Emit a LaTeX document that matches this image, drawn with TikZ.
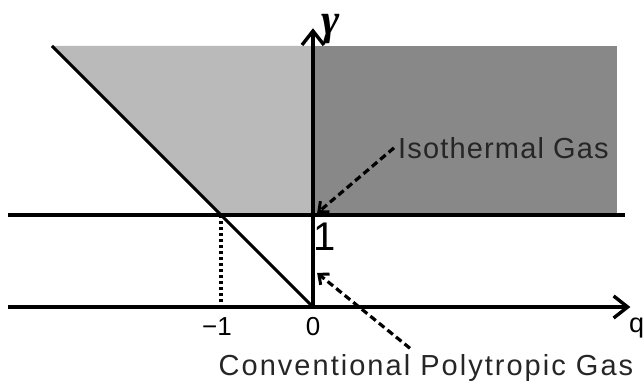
\documentclass[tikz,border=0pt]{standalone}
\usepackage{fontspec}
\setmainfont{Liberation Sans}
\newfontfamily\greekfont{Liberation Serif}
\usetikzlibrary{arrows.meta}
\definecolor{lightshade}{gray}{0.73}
\definecolor{darkshade}{gray}{0.535}

\begin{document}
\begin{tikzpicture}[x=92pt, y=92pt,
  axis/.style={line width=3.6pt, -{Straight Barb[length=14pt,width=22pt,line width=3.4pt]}},
  guide/.style={line width=3.6pt},
  pointer/.style={line width=3.2pt, dash pattern=on 7pt off 4pt,
    -{Straight Barb[length=8pt,width=14pt,line width=3pt]}},
  ticklabel/.style={font=\fontsize{26}{26}\selectfont, inner sep=0pt, anchor=north},
  gaslabel/.style={font=\fontsize{29}{29}\selectfont, text=black!85, inner sep=0pt}]
  % page frame with the original margins
  \useasboundingbox (-3.402,-0.891) rectangle (3.587,3.337);
  % shaded regions
  \fill[lightshade] (-2.837,2.837) -- (0,2.837) -- (0,1) -- (-1,1) -- cycle;
  \fill[darkshade] (0,1) rectangle (3.30,2.837);
  % points used below
  \coordinate (origin) at (0,0);
  \coordinate (unit) at (0,1);
  \coordinate (left0) at (-3.315,0);
  \coordinate (left1) at (-3.315,1);
  \coordinate (right1) at (3.39,1);
  \coordinate (qend) at (3.45,0);
  \coordinate (gend) at (0,3.03);
  \coordinate (corner) at (-2.837,2.837);
  \coordinate (mone) at (-1,1);
  \coordinate (mone0) at (-1,0);
  \coordinate (isotip) at (0.045,1.02);
  \coordinate (polytip) at (0.045,0.37);
  % lines and axes
  \draw[guide] (left1) -- (right1);
  \draw[axis] (left0) -- (qend);
  \draw[axis] (origin) -- (gend);
  \draw[line width=3pt] (origin) -- (corner);
  \draw[line width=3.2pt, dash pattern=on 3pt off 3pt] (mone) -- (mone0);
  % axis labels
  \node[font=\greekfont\bfseries\itshape\fontsize{44}{44}\selectfont, inner sep=0pt]
    (gam) at (0.19,3.02) {γ};
  \node[anchor=base west, inner sep=0pt, font=\fontsize{27}{27}\selectfont] (qlab) at (3.435,-0.272) {q};
  \node[ticklabel] (tm1) at (-1.043,-0.109) {−1};
  \node[ticklabel] (t0) at (0,-0.109) {0};
  \node[anchor=north west, inner sep=0pt, font=\fontsize{40}{40}\selectfont] (one) at (0,0.913) {1};
  % gas labels
  \node[gaslabel, anchor=west] (iso) at (0.924,1.73)
    {\addfontfeature{LetterSpace=4}Isothermal Gas};
  \node[gaslabel] (poly) at (1.228,-0.663)
    {\addfontfeature{LetterSpace=7}Conventional Polytropic Gas};
  \draw[pointer] ([xshift=-4pt]iso.west) -- (isotip);
  \draw[pointer] ([xshift=-16pt,yshift=6pt]poly.north) -- (polytip);
\end{tikzpicture}
\end{document}
